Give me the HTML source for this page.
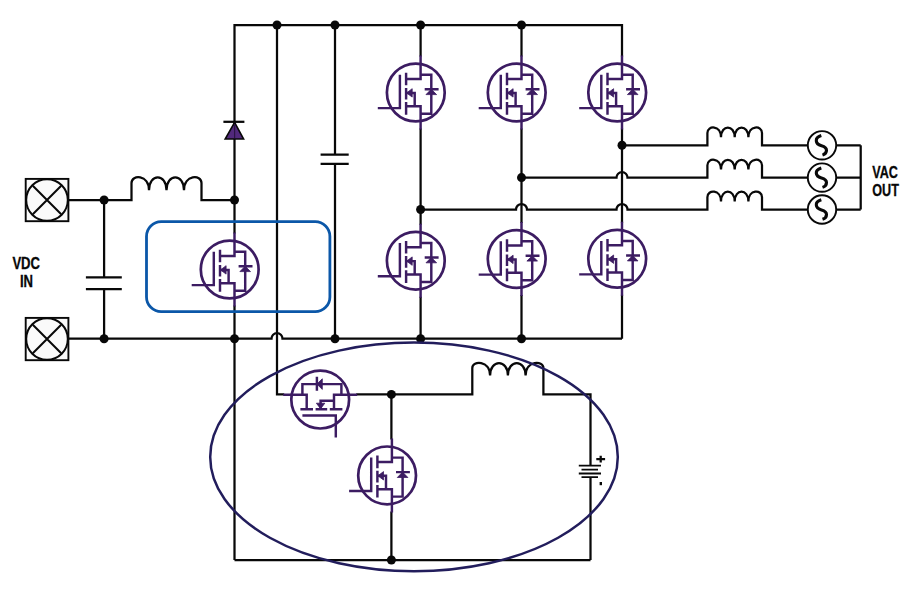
<!DOCTYPE html><html><head><meta charset="utf-8"><style>html,body{margin:0;padding:0;background:#fff;width:917px;height:592px;overflow:hidden}svg{display:block}</style></head><body><svg width="917" height="592" viewBox="0 0 917 592">
<defs><g id="mos" fill="none" stroke="#3c1c62" stroke-width="2.45">
<circle cx="0" cy="0" r="28.9" stroke-width="2.7"/>
<path d="M4.8,-37 V-13.5 H-9.7 M4.8,-17.8 H15.5 V21.2 H4.8 M-9.7,13.8 H4.8 V37 M-9.7,0.4 H-1.1 V13.8 M-38,15.6 H-15.9 V-17.8 M-9.7,-19.8 V-7.2 M-9.7,-4.6 V7 M-9.7,9.6 V22.2 M8.9,-3.3 H22.8"/>
<path d="M-9.2,0.4 L-3.6,-3.8 L-3.6,4.6 Z M15.5,-3.3 L10.2,2.1 L20.8,2.1 Z" fill="#3c1c62" stroke-width="0.8"/>
</g></defs>
<rect width="917" height="592" fill="#fff"/>
<g fill="none" stroke="#080808" stroke-width="2.25">
<path d="M234.5,560 V305.5 M234.5,233.5 V25 H622 V56.5 M622,128.5 V222.8 M622,294.8 V338.7"/>
<path d="M590.5,560 H234.5"/>
<path d="M68.4,338.7 H271.5 A5.5,5.5 0 0 1 282.5,338.7 H622"/>
<path d="M277,25 V394.4 H284.2 M356.2,394.4 H472.3 V368.0 C472.3,360.2 490.1,360.2 490.1,375.6 C490.1,358.9 507.9,358.9 507.9,375.6 C507.9,358.9 525.6,358.9 525.6,375.6 C525.6,360.2 543.4,360.2 543.4,368.0 V394.4 H590.5 V465.7"/>
<path d="M590.5,477.2 V560"/>
<path d="M335,25 V154.7 M335,163.8 V338.7"/>
<path d="M320.6,154.7 H348.7 M320.6,163.8 H348.7"/>
<path d="M420.6,25 V56.5 M420.6,128.5 V224.7 M420.6,296.7 V338.7"/>
<path d="M521.5,25 V56.5 M521.5,128.5 V223 M521.5,295 V338.7"/>
<path d="M68.4,200 H131.5 V183.0 C131.5,174.2 149.0,174.2 149.0,190.3 C149.0,173.0 166.5,173.0 166.5,190.3 C166.5,173.0 184.0,173.0 184.0,190.3 C184.0,174.2 201.5,174.2 201.5,183.0 V200.0 H234.5"/>
<path d="M104.1,200 V277.3 M104.1,289.1 V338.7"/>
<path d="M85.9,277.3 H121.8 M85.9,289.1 H121.8"/>
<path d="M391.4,394.4 V439.4 M391.4,511.4 V560"/>
<path d="M622,145.3 H707.4 V133.0 C707.4,125.0 721.0,125.0 721.0,137.2 C721.0,124.3 734.7,124.3 734.7,137.2 C734.7,124.3 748.4,124.3 748.4,137.2 C748.4,125.0 762.0,125.0 762.0,133.0 V145.3 H860.7"/>
<path d="M521.5,177.6 H616.5 A5.5,5.5 0 0 1 627.5,177.6 H707.4 V165.3 C707.4,157.3 721.0,157.3 721.0,169.5 C721.0,156.6 734.7,156.6 734.7,169.5 C734.7,156.6 748.4,156.6 748.4,169.5 C748.4,157.3 762.0,157.3 762.0,165.3 V177.6 H860.7"/>
<path d="M420.6,209.5 H516.0 A5.5,5.5 0 0 1 527.0,209.5 H616.5 A5.5,5.5 0 0 1 627.5,209.5 H707.4 V197.2 C707.4,189.2 721.0,189.2 721.0,201.4 C721.0,188.5 734.7,188.5 734.7,201.4 C734.7,188.5 748.4,188.5 748.4,201.4 C748.4,189.2 762.0,189.2 762.0,197.2 V209.5 H860.7"/>
<path d="M860.7,145.3 V209.5"/>
<path d="M223.4,121.8 H244.4"/>
<path d="M596.3,459.1 H605.1 M600.7,455.7 V462.5"/>
</g>
<rect x="25.7" y="178.9" width="42.7" height="42.3" fill="#fafafa" stroke="#080808" stroke-width="1.9"/>
<circle cx="47" cy="200" r="20.8" fill="#fafafa" stroke="#080808" stroke-width="2"/>
<path d="M32.8,185.8 L61.2,214.2 M32.8,214.2 L61.2,185.8" stroke="#080808" stroke-width="2"/>
<rect x="25.7" y="317.9" width="42.7" height="42.3" fill="#fafafa" stroke="#080808" stroke-width="1.9"/>
<circle cx="47" cy="339" r="20.8" fill="#fafafa" stroke="#080808" stroke-width="2"/>
<path d="M32.8,324.8 L61.2,353.2 M32.8,353.2 L61.2,324.8" stroke="#080808" stroke-width="2"/>
<circle cx="822" cy="145.3" r="14.2" fill="#fdfdfd" stroke="#080808" stroke-width="1.9"/>
<path d="M821.3,135.6 Q816.0,137.3 816.3,140.8 Q816.5,144.3 821.5,145.7 Q826.5,147.1 826.5,150.3 Q826.5,153.8 822.5,155.1" fill="none" stroke="#080808" stroke-width="3.1"/>
<circle cx="822" cy="177.6" r="14.2" fill="#fdfdfd" stroke="#080808" stroke-width="1.9"/>
<path d="M821.3,167.9 Q816.0,169.6 816.3,173.1 Q816.5,176.6 821.5,178.0 Q826.5,179.4 826.5,182.6 Q826.5,186.1 822.5,187.4" fill="none" stroke="#080808" stroke-width="3.1"/>
<circle cx="822" cy="209.5" r="14.2" fill="#fdfdfd" stroke="#080808" stroke-width="1.9"/>
<path d="M821.3,199.8 Q816.0,201.5 816.3,205.0 Q816.5,208.5 821.5,209.9 Q826.5,211.3 826.5,214.5 Q826.5,218.0 822.5,219.3" fill="none" stroke="#080808" stroke-width="3.1"/>
<path d="M234.6,122.3 L225.2,139 L243.6,139 Z" fill="#52297c" stroke="#080808" stroke-width="1.6" stroke-linejoin="miter"/><path d="M234.6,124 V138" stroke="#2c1445" stroke-width="1.2"/>
<path d="M578.8,465.7 H601 M581.5,469.7 H598 M578.8,473.5 H601 M581.5,477.2 H598" stroke="#080808" stroke-width="1.8" fill="none"/>
<rect x="599.6" y="482" width="2.4" height="3.2" fill="#080808"/>
<circle cx="277" cy="25" r="4.5" fill="#080808"/>
<circle cx="335" cy="25" r="4.5" fill="#080808"/>
<circle cx="420.6" cy="25" r="4.5" fill="#080808"/>
<circle cx="521.5" cy="25" r="4.5" fill="#080808"/>
<circle cx="104.1" cy="200" r="4.5" fill="#080808"/>
<circle cx="234.5" cy="200" r="4.5" fill="#080808"/>
<circle cx="104.1" cy="338.7" r="4.5" fill="#080808"/>
<circle cx="234.5" cy="338.7" r="4.5" fill="#080808"/>
<circle cx="335" cy="338.7" r="4.5" fill="#080808"/>
<circle cx="420.6" cy="338.7" r="4.5" fill="#080808"/>
<circle cx="521.5" cy="338.7" r="4.5" fill="#080808"/>
<circle cx="622" cy="145.3" r="4.5" fill="#080808"/>
<circle cx="521.5" cy="177.6" r="4.5" fill="#080808"/>
<circle cx="420.6" cy="209.5" r="4.5" fill="#080808"/>
<circle cx="391.4" cy="394.4" r="4.5" fill="#080808"/>
<circle cx="391.4" cy="560" r="4.5" fill="#080808"/>
<rect x="146.5" y="221.7" width="183.4" height="89.9" rx="14.7" fill="none" stroke="#0b57a8" stroke-width="2.8"/>
<use href="#mos" transform="translate(415.8,92.5)"/>
<use href="#mos" transform="translate(516.7,92.5)"/>
<use href="#mos" transform="translate(617.2,92.5)"/>
<use href="#mos" transform="translate(415.8,260.7)"/>
<use href="#mos" transform="translate(516.7,259.0)"/>
<use href="#mos" transform="translate(617.2,258.8)"/>
<use href="#mos" transform="translate(229.7,269.5)"/>
<use href="#mos" transform="translate(387.1,475.4)"/>
<use href="#mos" transform="translate(320.2,399.6) rotate(-90)"/>
<ellipse cx="414" cy="456.9" rx="203.8" ry="114.3" fill="none" stroke="#221d5c" stroke-width="2.5"/>
<g font-family="Liberation Sans, sans-serif" font-weight="bold" font-size="16.6" fill="#080808" stroke="#080808" stroke-width="0.3" text-anchor="middle">
<text transform="translate(26.2,268.6) scale(0.79,1)">VDC</text>
<text transform="translate(26.5,287.2) scale(0.79,1)">IN</text>
<text transform="translate(885.1,177.6) scale(0.76,1)">VAC</text>
<text transform="translate(885.6,195.9) scale(0.76,1)">OUT</text>
</g>
</svg></body></html>
